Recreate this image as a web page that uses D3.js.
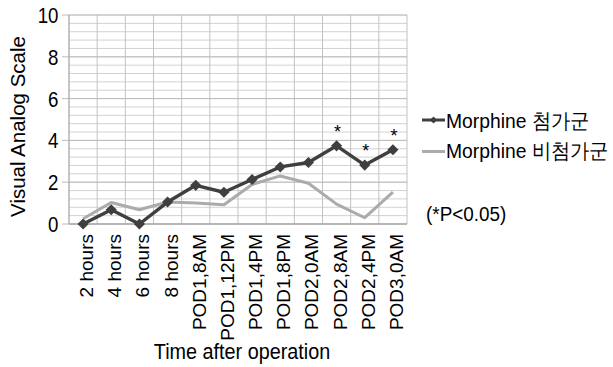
<!DOCTYPE html>
<html><head><meta charset="utf-8">
<script src="https://cdn.jsdelivr.net/npm/d3@7"></script>
<style>body{margin:0;background:#fff}svg{display:block}text{font-family:"Liberation Sans",Arial,sans-serif;fill:#000}</style>
</head><body><svg id="c" width="613" height="367"></svg>
<script>
const categories = ["2 hours","4 hours","6 hours","8 hours","POD1,8AM","POD1,12PM","POD1,4PM","POD1,8PM","POD2,0AM","POD2,8AM","POD2,4PM","POD3,0AM"];
const withMorphine = [0, 0.68, 0, 1.05, 1.85, 1.52, 2.13, 2.73, 2.94, 3.74, 2.82, 3.55];
const withoutMorphine = [0.25, 1.03, 0.68, 1.05, 1.0, 0.92, 1.89, 2.3, 1.95, 0.95, 0.3, 1.53];
const significant = ["POD2,8AM","POD2,4PM","POD3,0AM"];
const yTicks = [0,2,4,6,8,10];
const seriesNames = ["Morphine 첨가군","Morphine 비첨가군"];

const svg = d3.select("#c");
const L=69, R=407, T=15, B=224;
const x = d3.scaleBand().domain(categories).range([L,R]);
const y = d3.scaleLinear().domain([0,10]).range([B,T]);
const cx = c => x(c)+x.bandwidth()/2;

function htext(g, px, py, str, size, sx, anchor){
  return g.append("text").attr("transform",`translate(${px},${py}) scale(${sx},1)`)
    .attr("text-anchor",anchor||"start").style("font-size",size+"px").text(str);
}

const minor = d3.range(0, 10.001, 0.4);
svg.append("g").selectAll("line").data(minor).join("line")
  .attr("x1",L).attr("x2",R).attr("y1",d=>y(d)).attr("y2",d=>y(d))
  .attr("stroke","#d2d2d2").attr("stroke-width",1);
svg.append("g").selectAll("line").data(d3.range(categories.length+1)).join("line")
  .attr("x1",i=>L+i*x.bandwidth()).attr("x2",i=>L+i*x.bandwidth())
  .attr("y1",T).attr("y2",B).attr("stroke","#c2c2c2").attr("stroke-width",1);
svg.append("g").selectAll("line").data(yTicks).join("line")
  .attr("x1",L-7).attr("x2",R).attr("y1",d=>y(d)).attr("y2",d=>y(d))
  .attr("stroke","#bcbcbc").attr("stroke-width",1);
svg.append("line").attr("x1",L).attr("x2",R).attr("y1",B).attr("y2",B).attr("stroke","#999");
svg.append("line").attr("x1",L).attr("x2",L).attr("y1",T).attr("y2",B).attr("stroke","#aaa");

const gy = svg.append("g");
yTicks.forEach(v => htext(gy, 58.5, y(v)+8, String(v), 22.5, 0.83, "end"));

const xAxis = d3.axisBottom(x).tickSize(0).tickPadding(0);
const gx = svg.append("g").attr("transform",`translate(0,${B})`).call(xAxis);
gx.select(".domain").remove();
gx.selectAll("text").style("font-size","19px").attr("fill","#000")
  .attr("text-anchor","end").attr("dy","10px").attr("x",0).attr("y",0)
  .attr("transform","translate(0,10) rotate(-90)");

svg.append("text").attr("transform",`translate(25,${(T+B)/2+7}) rotate(-90)`)
  .attr("text-anchor","middle").style("font-size","20.5px").text("Visual Analog Scale");
htext(svg, 242, 359, "Time after operation", 22, 0.9, "middle");

const line = d3.line().x((d,i)=>cx(categories[i])).y(d=>y(d));
svg.append("path").datum(withoutMorphine).attr("d",line).attr("fill","none")
  .attr("stroke","#ababab").attr("stroke-width",3).attr("stroke-linejoin","round");
svg.append("path").datum(withMorphine).attr("d",line).attr("fill","none")
  .attr("stroke","#3f3f3f").attr("stroke-width",3.4).attr("stroke-linejoin","round");
const sym = d3.symbol().type(d3.symbolSquare).size(62);
svg.append("g").selectAll("path").data(withMorphine).join("path")
  .attr("d",sym).attr("fill","#3f3f3f")
  .attr("transform",(d,i)=>`translate(${cx(categories[i])},${y(d)}) rotate(45)`);

svg.append("g").selectAll("text").data(significant).join("text")
  .attr("x",d=>cx(d)+1)
  .attr("y",d=>y(withMorphine[categories.indexOf(d)])-8)
  .attr("text-anchor","middle").style("font-size","18px").text("*");

const lg = svg.append("g");
lg.append("line").attr("x1",422).attr("x2",445).attr("y1",120).attr("y2",120).attr("stroke","#3f3f3f").attr("stroke-width",3);
lg.append("path").attr("d",d3.symbol().type(d3.symbolSquare).size(26)).attr("fill","#3f3f3f").attr("transform","translate(433.5,120) rotate(45)");
htext(lg, 446, 127.5, seriesNames[0], 21, 0.92);
lg.append("line").attr("x1",422).attr("x2",445).attr("y1",151.5).attr("y2",151.5).attr("stroke","#ababab").attr("stroke-width",3);
htext(lg, 446, 157.5, seriesNames[1], 21, 0.92);
htext(svg, 426, 221, "(*P<0.05)", 21, 0.9);
</script></body></html>
